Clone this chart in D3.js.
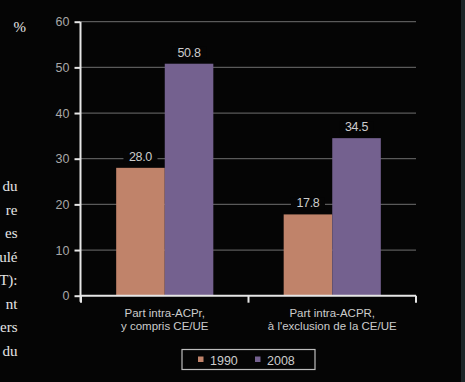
<!DOCTYPE html>
<html><head><meta charset="utf-8">
<script src="https://cdn.jsdelivr.net/npm/d3@7"></script>
<style>html,body{margin:0;padding:0;background:#050505;overflow:hidden}</style>
</head><body>
<script>
const categories = [["Part intra-ACPr,", "y compris CE/UE"], ["Part intra-ACPR,", "à l'exclusion de la CE/UE"]];
const seriesNames = ["1990", "2008"];
const values1990 = [28.0, 17.8];
const values2008 = [50.8, 34.5];
const yTicks = [0, 10, 20, 30, 40, 50, 60];
const sideText = ["du", "re", "es", "ulé", "T):", "nt", "ers", "du"];
const colors = ["#c0836a", "#74618f"];

const W = 465, H = 382;
const svg = d3.select("body").append("svg").attr("width", W).attr("height", H);
svg.append("rect").attr("width", W).attr("height", H).attr("fill", "#050505");
svg.append("rect").attr("x", 461).attr("width", 4).attr("height", H).attr("fill", "#1c2527");

// side text
svg.append("text").attr("x", 26).attr("y", 31.5).attr("text-anchor", "end")
  .attr("font-family", "Liberation Serif").attr("font-size", 15).attr("fill", "#e6e6e6").text("%");
svg.selectAll(".side").data(sideText).join("text")
  .attr("x", 17.5).attr("y", (d, i) => 191 + i * 23.5).attr("text-anchor", "end")
  .attr("font-family", "Liberation Serif").attr("font-size", 15).attr("fill", "#e6e6e6").text(d => d);

const left = 81, right = 416, y0 = 295.7, yTop = 21.7;
const y = d3.scaleLinear().domain([0, 60]).range([y0, yTop]);
const x0 = d3.scaleBand().domain(d3.range(categories.length)).range([left, right]).paddingInner(0.42).paddingOuter(0.21);
const x1 = d3.scaleBand().domain(seriesNames).range([0, x0.bandwidth()]);

// gridlines
svg.append("g").selectAll("line").data(yTicks.filter(t => t > 0)).join("line")
  .attr("x1", left).attr("x2", right).attr("y1", d => y(d)).attr("y2", d => y(d))
  .attr("stroke", "#5a5a5a").attr("stroke-width", 1.2);

// bars
const data = categories.map((c, i) => ({i, vals: [values1990[i], values2008[i]]}));
const g = svg.append("g").selectAll("g").data(data).join("g")
  .attr("transform", d => `translate(${x0(d.i)},0)`);
g.selectAll("rect").data(d => d.vals.map((v, k) => ({k, v}))).join("rect")
  .attr("x", d => x1(seriesNames[d.k])).attr("width", x1.bandwidth())
  .attr("y", d => y(d.v)).attr("height", d => y0 - y(d.v))
  .attr("fill", d => colors[d.k]);

// value labels with knockout background
const lbl = g.selectAll("g.l").data(d => d.vals.map((v, k) => ({k, v}))).join("g").attr("class", "l");
lbl.append("rect")
  .attr("x", d => x1(seriesNames[d.k]) + x1.bandwidth() / 2 - 17).attr("width", 34)
  .attr("y", d => y(d.v) - 17).attr("height", 12).attr("fill", "#050505");
lbl.append("text")
  .attr("x", d => x1(seriesNames[d.k]) + x1.bandwidth() / 2).attr("y", d => y(d.v) - 7)
  .attr("text-anchor", "middle").attr("font-family", "Liberation Sans").attr("font-size", 12.5)
  .attr("fill", "#cccccc").attr("letter-spacing", -0.3).text(d => d.v.toFixed(1));

// y axis
const yAxis = svg.append("g").attr("transform", `translate(${left - 0.5},0)`)
  .call(d3.axisLeft(y).tickValues(yTicks).tickSize(6).tickPadding(5));
yAxis.select(".domain").attr("stroke", "#e6e6e6").attr("stroke-width", 2).attr("d", `M0,${yTop}V${y0 + 6}`);
yAxis.selectAll(".tick line").attr("stroke", "#e6e6e6").attr("stroke-width", 2);
yAxis.selectAll(".tick text").attr("font-family", "Liberation Sans").attr("font-size", 12.5).attr("fill", "#a8a8a8");

// x axis
const xg = svg.append("g");
xg.append("path").attr("d", `M${left},${y0}H${right}`).attr("stroke", "#e6e6e6").attr("stroke-width", 2).attr("fill", "none");
const bounds = [left, (left + right) / 2, right];
xg.selectAll("line").data(bounds).join("line")
  .attr("x1", d => d).attr("x2", d => d).attr("y1", y0).attr("y2", y0 + 7)
  .attr("stroke", "#e6e6e6").attr("stroke-width", 2);
xg.selectAll("text").data(data).join("text")
  .attr("text-anchor", "middle").attr("font-family", "Liberation Sans").attr("font-size", 11.5)
  .attr("fill", "#cccccc")
  .each(function (d) {
    const t = d3.select(this);
    categories[d.i].forEach((line, k) => {
      t.append("tspan").attr("x", x0(d.i) + x0.bandwidth() / 2).attr("y", 316.5 + k * 13).text(line);
    });
  });

// legend
const lg = svg.append("g");
lg.append("rect").attr("x", 182).attr("y", 349.5).attr("width", 133).attr("height", 20)
  .attr("fill", "none").attr("stroke", "#bdbdbd").attr("stroke-width", 1.2);
const legX = [198, 255];
seriesNames.forEach((s, k) => {
  lg.append("rect").attr("x", legX[k]).attr("y", 356.5).attr("width", 5.5).attr("height", 5.5).attr("fill", colors[k]);
  lg.append("text").attr("x", legX[k] + 12).attr("y", 364.5).attr("font-family", "Liberation Sans")
    .attr("font-size", 12.5).attr("fill", "#cccccc").text(s);
});
</script>
</body></html>
